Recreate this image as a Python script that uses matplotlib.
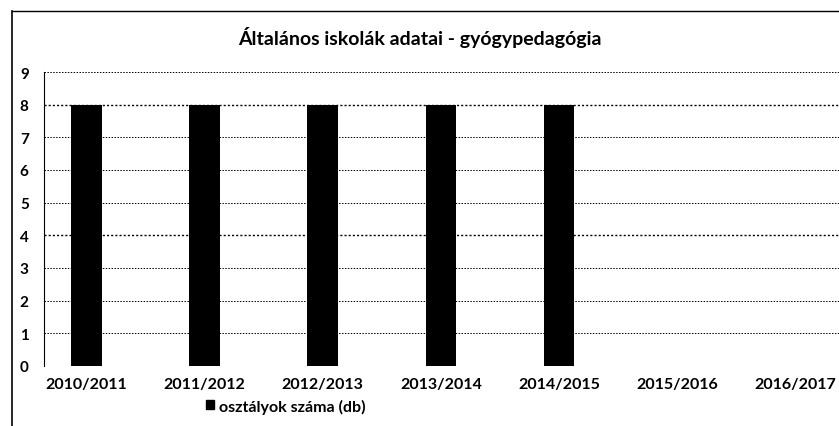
import matplotlib
matplotlib.use("Agg")
import matplotlib.pyplot as plt
from matplotlib.lines import Line2D
from matplotlib.patches import Patch

categories = ["2010/2011", "2011/2012", "2012/2013", "2013/2014", "2014/2015", "2015/2016", "2016/2017"]
values = [8, 8, 8, 8, 8, 0, 0]
series_name = "osztályok száma (db)"
title = "Általános iskolák adatai - gyógypedagógia"
yticks = list(range(0, 10))

plt.rcParams['font.family'] = ['Lato', 'DejaVu Sans']

fig = plt.figure(figsize=(8.39, 4.27), dpi=100)
ax = fig.add_axes([44/839, 1-367/427, 1-44/839, (367-73)/427])

x = list(range(len(categories)))
ax.bar(x, values, width=0.26, color="black", zorder=3)
ax.set_xlim(-0.36, 6.37)
ax.set_ylim(0, 9)
ax.set_yticks(yticks)
ax.set_yticklabels([str(t) for t in yticks], fontsize=11, fontweight="bold")
ax.set_xticks(x)
ax.set_xticklabels(categories, fontsize=11.5, fontweight="bold")
ax.tick_params(axis="both", length=0)
ax.tick_params(axis="y", pad=11)
ax.tick_params(axis="x", pad=8)
for y in yticks:
    lw = 1.0 if y in (4, 8) else 0.7
    ax.axhline(y, color="black", linewidth=lw, linestyle=(0, (1.5, 1.5)), zorder=1)
for s in ["top", "right", "bottom"]:
    ax.spines[s].set_visible(False)
ax.spines["left"].set_linestyle((0, (1, 1)))
ax.spines["left"].set_linewidth(0.8)

fig.text(0.5, 1-38/427, title, ha="center", va="center", fontsize=14, fontweight="bold")
handle = Patch(facecolor="black", edgecolor="black")
fig.legend([handle], [series_name], loc="center", bbox_to_anchor=(286/839, 1-407/427),
           frameon=False, prop={'weight': 'bold', 'size': 11.5}, borderpad=0.1,
           handlelength=0.5, handleheight=0.5, handletextpad=0.3)

fig.add_artist(Line2D([12/839, 12/839], [0, 1-12/427], color="black", linewidth=1.2, transform=fig.transFigure))
fig.add_artist(Line2D([12/839, 1], [1-12/427, 1-12/427], color="black", linewidth=1.0, transform=fig.transFigure))

fig.savefig("out.png", dpi=100)
